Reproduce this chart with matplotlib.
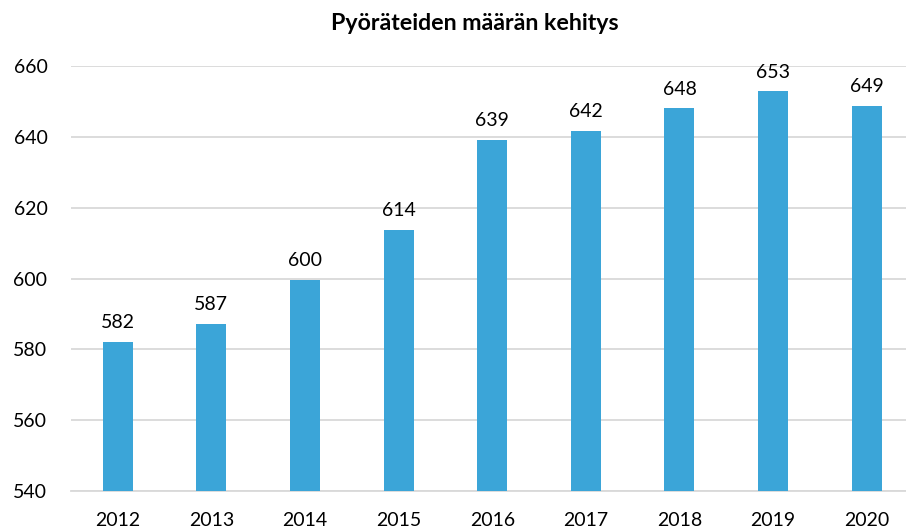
import matplotlib
matplotlib.use("Agg")
import matplotlib.pyplot as plt

# -- Data
years  = ["2012", "2013", "2014", "2015", "2016", "2017", "2018", "2019", "2020"]
values = [582.1, 587.2, 599.6, 613.8, 639.2, 641.7, 648.1, 652.9, 648.7]
title  = "Pyöräteiden määrän kehitys"

plt.rcParams['font.family'] = ['Lato', 'DejaVu Sans']

fig = plt.figure(figsize=(9.06, 5.30), dpi=100)
ax  = fig.add_axes([71/906, 1-491/530, 1-71/906, (491-66)/530])

x = range(len(years))
ax.bar(x, values, width=0.32, color="#3BA5D8", zorder=3)
for xi, v in zip(x, values):
    ax.text(xi, v + 3.0, "{:.0f}".format(v), ha="center", va="bottom",
            fontsize=14, color="#000000", clip_on=False)

ax.set_ylim(540, 660)
ax.set_xlim(-0.5, 8.42)
ax.set_yticks(range(540, 661, 20))
ax.set_xticks(list(x))
ax.set_xticklabels(years)
ax.tick_params(axis="both", length=0, labelsize=14, colors="#000000")
ax.tick_params(axis="y", pad=17)
ax.tick_params(axis="x", pad=15)
ax.grid(axis="y", color="#D9D9D9", linewidth=1.3, zorder=0)
for s in ["top", "right", "left"]:
    ax.spines[s].set_visible(False)
ax.spines["bottom"].set_color("#D9D9D9")
ax.spines["bottom"].set_linewidth(1.3)

fig.text(475/906, 1-24/530, title, ha="center", va="center",
         fontsize=16.7, fontweight="bold")

fig.savefig("out.png", dpi=100)
